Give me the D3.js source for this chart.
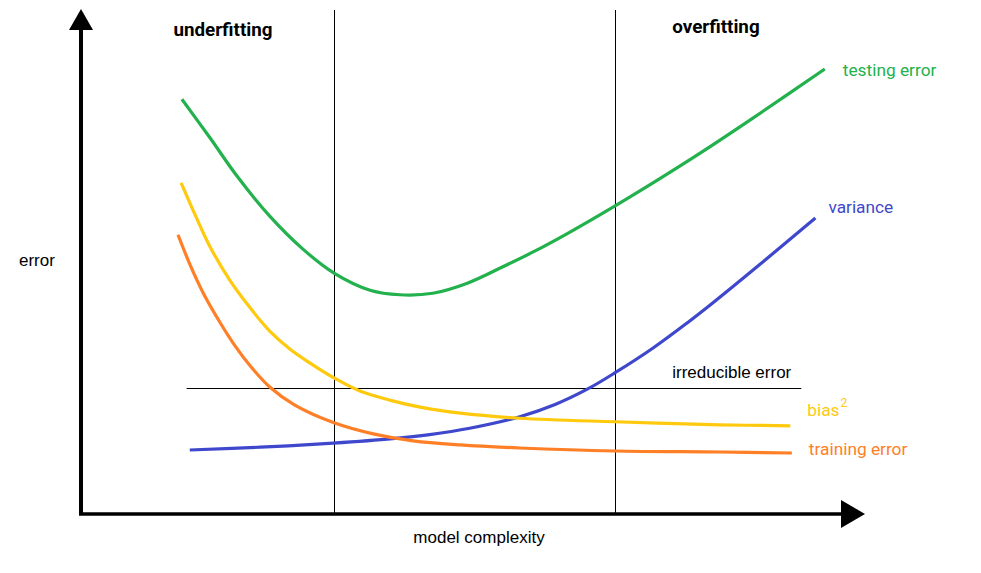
<!DOCTYPE html>
<html>
<head>
<meta charset="utf-8">
<script src="https://cdn.jsdelivr.net/npm/d3@7"></script>
<style>
  html, body { margin: 0; padding: 0; background: #fff; }
  svg { display: block; }
</style>
</head>
<body>
<svg id="chart" width="981" height="573"></svg>
<script>
// ---- data (model complexity 0..100, error 0..100) ----
const testingX = [13.0, 16.6, 20.0, 24.2, 28.4, 32.4, 37.0, 40.8, 45.0, 49.4, 53.6, 57.8, 62.1, 68.2, 73.7, 79.1, 85.5, 95.0];
const testingY = [82.3, 74.6, 67.1, 59.1, 52.6, 47.8, 44.4, 43.5, 43.8, 45.8, 48.8, 52.0, 55.6, 61.1, 66.3, 71.6, 78.2, 88.3];

const biasX = [12.9, 14.7, 16.6, 19.1, 21.7, 24.2, 26.8, 29.3, 32.4, 35.7, 39.5, 43.4, 48.5, 56.1, 68.2, 81.6, 90.6];
const biasY = [65.7, 59.3, 53.0, 46.4, 40.9, 36.3, 32.7, 30.0, 27.0, 24.4, 22.6, 21.2, 20.0, 19.0, 18.3, 17.7, 17.5];

const trainingX = [12.5, 14.0, 15.9, 17.9, 19.8, 21.7, 24.2, 27.4, 32.4, 37.4, 42.5, 48.5, 56.1, 68.2, 81.6, 90.8];
const trainingY = [55.4, 49.6, 43.3, 37.9, 33.3, 29.4, 25.2, 21.6, 18.1, 15.9, 14.5, 13.7, 13.1, 12.5, 12.3, 12.1];

const varianceX = [14.0, 23.0, 32.3, 39.9, 44.6, 49.7, 56.1, 60.6, 64.7, 68.2, 73.1, 77.4, 80.7, 86.7, 93.8];
const varianceY = [12.7, 13.25, 14.05, 14.94, 15.75, 17.02, 19.31, 21.73, 24.76, 27.98, 32.94, 37.86, 41.87, 49.5, 58.73];

const irreducibleLevel = 25.0;
const irreducibleRange = [13.6, 92.0];
const regionBounds = [32.4, 68.2];
const regionLabels = ["underfitting", "overfitting"];

// ---- layout ----
const svg = d3.select("#chart");
const x = d3.scaleLinear().domain([0, 100]).range([80, 864]);
const y = d3.scaleLinear().domain([0, 100]).range([514, 10]);

const toPts = (xs, ys) => xs.map((v, i) => [v, ys[i]]);
const line = d3.line().x(d => x(d[0])).y(d => y(d[1])).curve(d3.curveCatmullRom.alpha(0.5));

const series = [
  { name: "testing error", pts: toPts(testingX, testingY), color: "#22b14c", dx: 18, dy: 7 },
  { name: "variance", pts: toPts(varianceX, varianceY), color: "#3f48cc", dx: 13, dy: -5 },
  { name: "bias", sup: "2", pts: toPts(biasX, biasY), color: "#ffc90e", dx: 17, dy: -10 },
  { name: "training error", pts: toPts(trainingX, trainingY), color: "#ff7f27", dx: 17, dy: 2 }
];

// region dividers
svg.selectAll("line.div").data(regionBounds).enter().append("line")
  .attr("class", "div")
  .attr("x1", d => Math.round(x(d)) + 0.5).attr("x2", d => Math.round(x(d)) + 0.5)
  .attr("y1", 10).attr("y2", y(0))
  .attr("stroke", "#000").attr("stroke-width", 1);

// irreducible error line
svg.append("line")
  .attr("x1", x(irreducibleRange[0])).attr("x2", x(irreducibleRange[1]))
  .attr("y1", Math.round(y(irreducibleLevel)) + 0.5).attr("y2", Math.round(y(irreducibleLevel)) + 0.5)
  .attr("stroke", "#000").attr("stroke-width", 1.2);
svg.append("text")
  .attr("x", x(irreducibleRange[1]) - 10).attr("y", y(irreducibleLevel) - 10)
  .attr("text-anchor", "end")
  .attr("font-family", "Liberation Sans, Arial, sans-serif").attr("font-size", 17)
  .attr("fill", "#000").text("irreducible error");

// curves
svg.selectAll("path.curve").data(series).enter().append("path")
  .attr("class", "curve")
  .attr("d", d => line(d.pts))
  .attr("fill", "none").attr("stroke", d => d.color).attr("stroke-width", 3.2);

// series labels
const lbl = svg.selectAll("text.lbl").data(series).enter().append("text")
  .attr("class", "lbl")
  .attr("x", d => x(d.pts[d.pts.length - 1][0]) + d.dx)
  .attr("y", d => y(d.pts[d.pts.length - 1][1]) + d.dy)
  .attr("font-family", "Roboto, sans-serif").attr("font-size", 17.3)
  .attr("fill", d => d.color);
lbl.append("tspan").text(d => d.name);
lbl.filter(d => d.sup).append("tspan")
  .attr("dy", -9).attr("dx", 1).attr("font-size", 12).text(d => d.sup);

// axes
const ax0 = x(0) + 1, ay0 = y(0);
svg.append("line").attr("x1", ax0).attr("x2", ax0).attr("y1", ay0 + 1).attr("y2", 28)
  .attr("stroke", "#000").attr("stroke-width", 4);
svg.append("line").attr("x1", ax0 - 2).attr("x2", 842).attr("y1", ay0).attr("y2", ay0)
  .attr("stroke", "#000").attr("stroke-width", 3.5);
svg.append("path").attr("d", `M${ax0},9 L${ax0 + 12},30 L${ax0 - 12},30 Z`).attr("fill", "#000");
svg.append("path").attr("d", `M865,${ay0} L841,${ay0 - 14} L841,${ay0 + 14} Z`).attr("fill", "#000");

// axis titles
svg.append("text").attr("x", 19).attr("y", 266)
  .attr("font-family", "Liberation Sans, Arial, sans-serif").attr("font-size", 17)
  .attr("fill", "#000").text("error");
svg.append("text").attr("x", 479).attr("y", 543).attr("text-anchor", "middle")
  .attr("font-family", "Liberation Sans, Arial, sans-serif").attr("font-size", 17)
  .attr("fill", "#000").text("model complexity");

// region labels
svg.append("text").attr("x", 223).attr("y", 36).attr("text-anchor", "middle")
  .attr("font-family", "Roboto, sans-serif").attr("font-weight", "bold").attr("font-size", 18.8)
  .attr("fill", "#000").text(regionLabels[0]);
svg.append("text").attr("x", 716).attr("y", 33).attr("text-anchor", "middle")
  .attr("font-family", "Roboto, sans-serif").attr("font-weight", "bold").attr("font-size", 18.8)
  .attr("fill", "#000").text(regionLabels[1]);
</script>
</body>
</html>
